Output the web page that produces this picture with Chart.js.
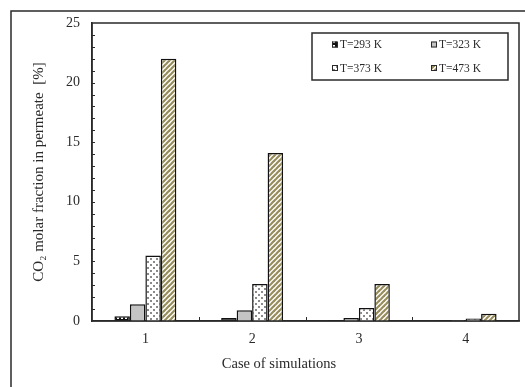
<!DOCTYPE html>
<html>
<head>
<meta charset="utf-8">
<script src="https://cdn.jsdelivr.net/npm/chart.js@4/dist/chart.umd.min.js"></script>
<style>
  html, body { margin: 0; padding: 0; background: #fff; }
  #wrap { width: 525px; height: 387px; }
</style>
</head>
<body>
<div id="wrap"><canvas id="permChart" width="525" height="387"></canvas></div>
<script>
const cases = ['1', '2', '3', '4'];
const seriesLabels = ['T=293 K', 'T=323 K', 'T=373 K', 'T=473 K'];
const t293 = [0.4, 0.25, 0.08, 0.05];
const t323 = [1.4, 0.9, 0.25, 0.07];
const t373 = [5.5, 3.1, 1.1, 0.2];
const t473 = [22.0, 14.1, 3.1, 0.6];
const yTicks = [0, 5, 10, 15, 20, 25];

const FONT = "'Liberation Serif', 'Times New Roman', serif";
const INK = '#2a2a2a';

// small tiles used as bar fills
function tile(size, paint) {
  const c = document.createElement('canvas');
  c.width = size; c.height = size;
  const g = c.getContext('2d');
  paint(g, size);
  return document.createElement('canvas').getContext('2d').createPattern(c, 'repeat');
}
const blackDots = tile(4, (g, s) => {
  g.fillStyle = '#111'; g.fillRect(0, 0, s, s);
  g.fillStyle = '#fff'; g.fillRect(1, 1, 2, 2);
});
const greyFill = '#c4c4c4';
const greyDots = tile(6, (g, s) => {
  g.fillStyle = '#fff'; g.fillRect(0, 0, s, s);
  g.fillStyle = '#8a8a8a';
  g.fillRect(0, 0, 2, 2);
  g.fillRect(3, 3, 2, 2);
});
const stripes = tile(5, (g, s) => {
  g.fillStyle = '#fff'; g.fillRect(0, 0, s, s);
  g.strokeStyle = '#978d5c'; g.lineWidth = 2.2;
  for (let k = -1; k <= 1; k++) {
    g.beginPath();
    g.moveTo(k * s - 1, s + 1);
    g.lineTo(k * s + s + 1, -1);
    g.stroke();
  }
});
const fills = [blackDots, greyFill, greyDots, stripes];

// frame, plot box, inward tick marks, x title and legend
const decorations = {
  id: 'decorations',
  afterDraw(chart) {
    const { ctx, chartArea: a, scales: { x, y } } = chart;
    ctx.save();
    ctx.strokeStyle = INK;
    ctx.lineWidth = 1.5;
    // outer frame
    ctx.beginPath();
    ctx.moveTo(11, 400); ctx.lineTo(11, 11); ctx.lineTo(530, 11);
    ctx.stroke();
    // plot box
    ctx.strokeRect(a.left, a.top, a.right - a.left, a.bottom - a.top);
    // minor ticks on the value axis
    ctx.lineWidth = 1;
    ctx.beginPath();
    for (let v = 1; v < 25; v++) {
      const py = Math.round(y.getPixelForValue(v)) + 0.5;
      ctx.moveTo(a.left, py); ctx.lineTo(a.left + 3, py);
    }
    // category separators on the bottom axis
    for (let i = 1; i < cases.length; i++) {
      const px = Math.round((x.getPixelForValue(i - 1) + x.getPixelForValue(i)) / 2) + 0.5;
      ctx.moveTo(px, a.bottom); ctx.lineTo(px, a.bottom - 4);
    }
    ctx.stroke();

    // axis title
    ctx.fillStyle = INK;
    ctx.font = '14.5px ' + FONT;
    ctx.textAlign = 'center';
    ctx.textBaseline = 'middle';
    ctx.fillText('Case of simulations', 279, 364);

    // legend box
    ctx.lineWidth = 1.5;
    ctx.strokeRect(312, 33, 196, 47);
    ctx.font = '11.5px ' + FONT;
    ctx.textAlign = 'left';
    const cols = [332, 431];
    const rows = [44.5, 68];
    chart.data.datasets.forEach((ds, i) => {
      const lx = cols[i % 2], ly = rows[Math.floor(i / 2)];
      ctx.fillStyle = ds.backgroundColor;
      ctx.fillRect(lx, ly - 3, 6, 6);
      ctx.lineWidth = 1;
      ctx.strokeRect(lx + 0.5, ly - 2.5, 5, 5);
      ctx.fillStyle = INK;
      ctx.fillText(ds.label, lx + 8, ly + 0.5);
    });
    ctx.restore();
  }
};

const datasets = [t293, t323, t373, t473].map((vals, i) => ({
  label: seriesLabels[i],
  data: vals,
  backgroundColor: fills[i],
  borderColor: '#111',
  borderWidth: 1.5,
  borderSkipped: 'start'
}));

new Chart(document.getElementById('permChart'), {
  type: 'bar',
  data: { labels: cases, datasets: datasets },
  options: {
    responsive: false,
    animation: false,
    layout: { padding: { top: 23, right: 6, left: 0, bottom: 0 } },
    datasets: { bar: { categoryPercentage: 0.58, barPercentage: 1 } },
    plugins: {
      legend: { display: false },
      tooltip: { enabled: false }
    },
    scales: {
      x: {
        grid: { display: false, drawTicks: false },
        border: { display: true, color: INK, width: 1.5 },
        ticks: { color: INK, font: { family: FONT, size: 14 }, padding: 10 },
        afterFit(scale) { scale.height = 66; }
      },
      y: {
        min: 0,
        max: 25,
        grid: { display: false, drawTicks: false },
        border: { display: true, color: INK, width: 1.5 },
        afterBuildTicks(scale) { scale.ticks = yTicks.map(v => ({ value: v })); },
        ticks: { color: INK, font: { family: FONT, size: 14 }, padding: 12 },
        title: {
          display: true,
          text: 'CO\u2082 molar fraction in permeate  [%]',
          color: INK,
          font: { family: FONT, size: 15 },
          padding: { top: 30, bottom: 0 }
        },
        afterFit(scale) { scale.width = 92; }
      }
    }
  },
  plugins: [decorations]
});
</script>
</body>
</html>
